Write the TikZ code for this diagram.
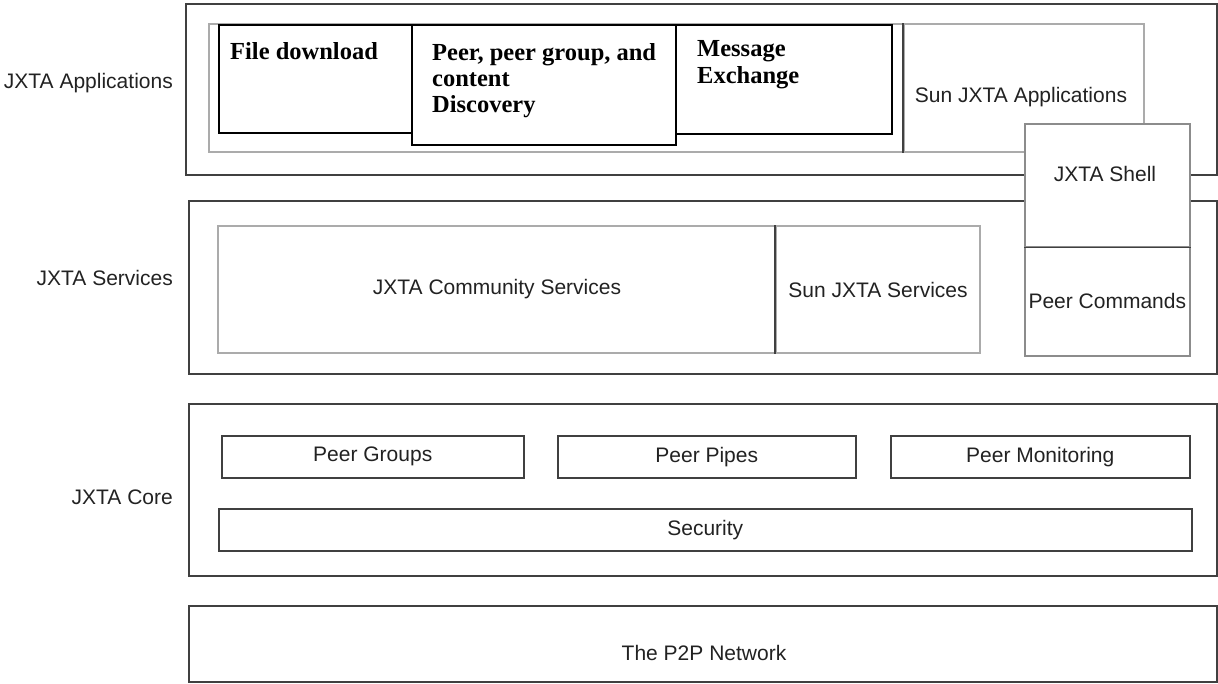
\documentclass[tikz,border=0pt]{standalone}
\usepackage{fontspec}
\setmainfont{Liberation Sans}
\newfontfamily\boxserif{Liberation Serif}
\usetikzlibrary{positioning}

\definecolor{layergray}{HTML}{404040}
\definecolor{softgray}{HTML}{ABABAB}
\definecolor{inkgray}{HTML}{222222}

\begin{document}
\begin{tikzpicture}[x=1pt, y=-1pt,
    size/.style 2 args={minimum width=#1pt, minimum height=#2pt},
    plainbox/.style={rectangle, anchor=north west, inner sep=0pt, fill=white, text=inkgray,
        font=\fontsize{21}{25}\selectfont},
    layer/.style={plainbox, draw=layergray, line width=1.5pt},
    areabox/.style={plainbox, draw=softgray, line width=2pt},
    appbox/.style={plainbox, draw=black, line width=1.6pt},
    shellbox/.style={plainbox, draw=black!45, line width=1.6pt},
    corebox/.style={plainbox, draw=layergray, line width=1.5pt},
    divider/.style={draw=layergray, line width=1.5pt},
    sanstext/.style={inner sep=0pt, text=inkgray, font=\fontsize{21}{25}\selectfont},
    apptext/.style={inner sep=0pt, align=left, anchor=north west,
        font=\boxserif\bfseries\fontsize{24.5}{26}\selectfont}]
    \useasboundingbox (0,0) rectangle (1218,683);

    % layers
    \node [layer, size={1031}{171}] (appLayer) at (185,3) {};
    \node [layer, size={1028}{173}] (svcLayer) at (188,200) {};
    \node [layer, size={1028}{172}] (coreLayer) at (188,403) {};
    \node [layer, size={1028}{76}] (netLayer) at (188,605) {};
    \node [sanstext] (netText) at (704,653) {The P2P Network};

    \node [sanstext, anchor=east] (appLabel) at (173,83) {JXTA Applications};
    \node [sanstext, anchor=east] (svcLabel) at (173,278) {JXTA Services};
    \node [sanstext, anchor=east] (coreLabel) at (173,497) {JXTA Core};

    % applications
    \node [areabox, size={695}{128}] (commApps) at (208,23) {};
    \node [areabox, size={240}{128}] (sunApps) at (903,23) {};
    \node [sanstext] (sunAppsText) at (1021,97) {Sun JXTA Applications};
    \draw [divider] (sunApps.north west) -- (sunApps.south west);

    \node [appbox, size={193}{108}] (fileDl) at (218,24) {};
    \node [appbox, size={216}{109}] (msgEx) at (675,24) {};
    \node [appbox, size={264}{120}] (discov) at (411,24) {};
    \node [apptext] (fileDlText) at (230,42) {File download};
    \node [apptext] (discovText) at (432,43) {Peer, peer group, and\\content\\Discovery};
    \node [apptext] (msgExText) at (697,40) {Message\\[1.5pt]Exchange};

    % services
    \node [areabox, size={558}{127}] (commSvc) at (217,225) {JXTA Community Services};
    \node [areabox, size={204}{127}] (sunSvc) at (775,225) {Sun JXTA Services};
    \draw [divider] (sunSvc.north west) -- (sunSvc.south west);

    % shell spans both layers
    \node [shellbox, size={165}{123}] (shell) at (1024,123) {};
    \node [sanstext] (shellText) at (1105,174) {JXTA Shell};
    \node [shellbox, size={165}{109}] (peerCmds) at (1024,246) {Peer Commands};
    \draw [divider] (shell.south west) -- (shell.south east);

    % core
    \node [corebox, size={302}{42}] (groups) at (221,435) {Peer Groups};
    \node [corebox, size={298}{42}] (pipes) at (557,435) {Peer Pipes};
    \node [corebox, size={299}{42}] (monitor) at (890,435) {Peer Monitoring};
    \node [corebox, size={973}{42}] (security) at (218,508) {Security};
\end{tikzpicture}
\end{document}
